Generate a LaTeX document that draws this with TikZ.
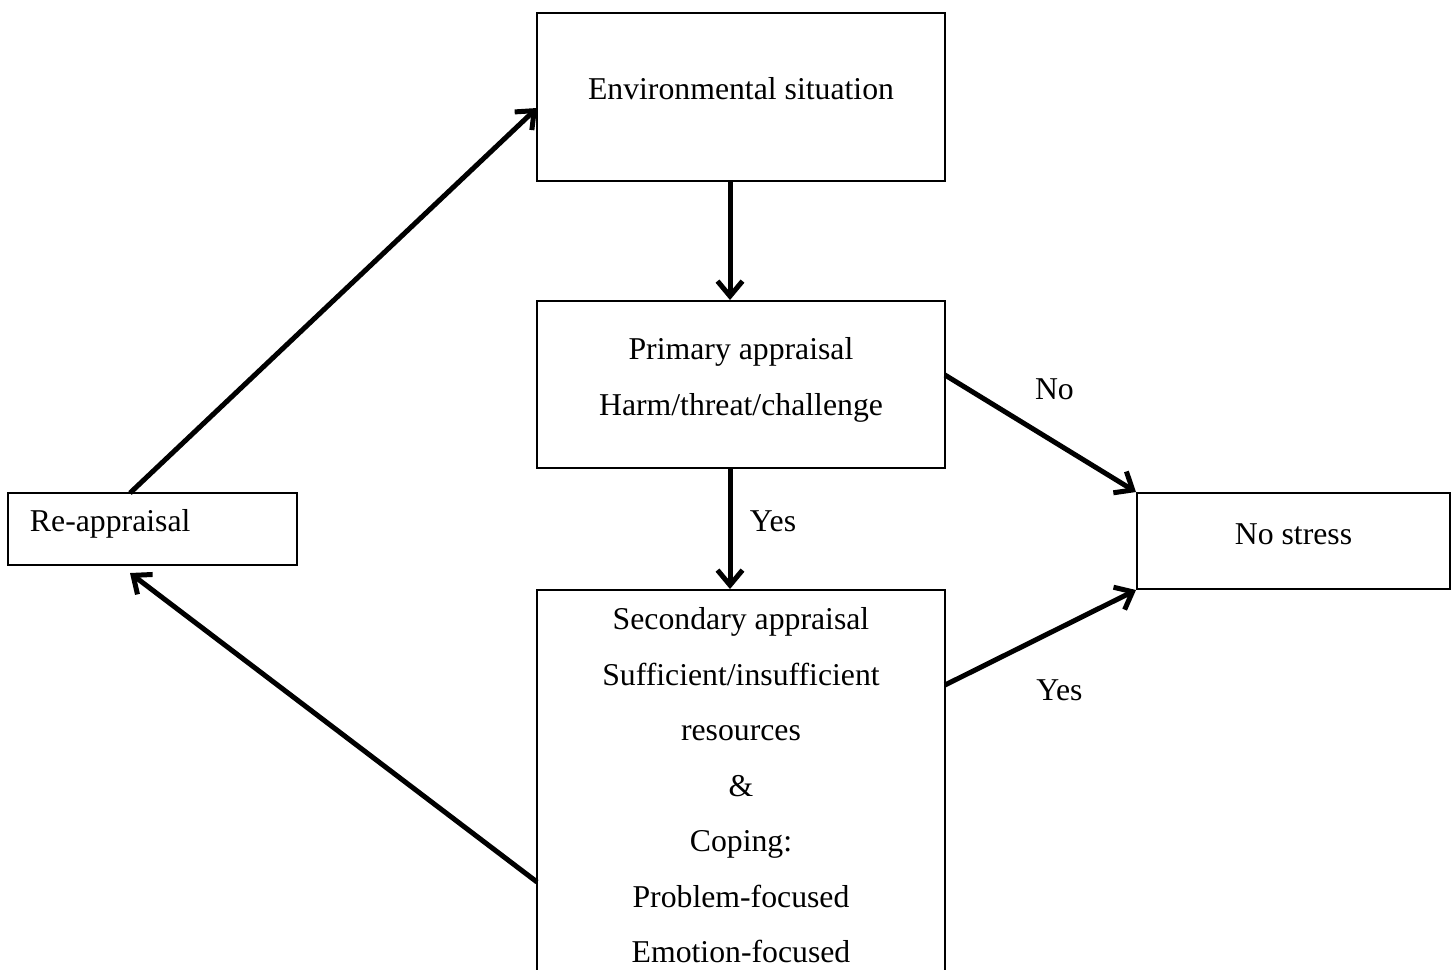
\documentclass[tikz,border=0pt]{standalone}
\usepackage{fontspec}
\setmainfont{Liberation Serif}
\usetikzlibrary{arrows.meta,positioning,calc}
\tikzset{
  stagebox/.style={draw, line width=0.8pt, align=center, inner sep=0pt,
    font=\fontsize{12.7}{22.2}\selectfont},
  flowln/.style={-{Straight Barb[length=6pt,width=10pt,line width=2pt]}, line width=2pt},
  edgelab/.style={font=\fontsize{12.7}{15}\selectfont},
}

\begin{document}
\begin{tikzpicture}[x=0.4pt, y=-0.4pt]
    \useasboundingbox (0,0) rectangle (1456,969);
    % stages
    \node[stagebox, minimum width=408*0.4pt, minimum height=168*0.4pt, text depth=7pt] (env) at (741,97) {Environmental situation};
    \node[stagebox, minimum width=408*0.4pt, minimum height=167*0.4pt, text depth=6.6pt] (prim) at (741,384.5)
      {Primary appraisal\\Harm/threat/challenge};
    \node[stagebox, minimum width=408*0.4pt, anchor=north, inner ysep=7pt] (sec) at (741,589)
      {Secondary appraisal\\Sufficient/insufficient\\resources\\\&\\Coping:\\Problem-focused\\Emotion-focused\\\strut};
    \node[stagebox, minimum width=289*0.4pt, minimum height=72*0.4pt, inner xsep=8.8pt,
      text width=245*0.4pt, align=left, text depth=7pt] (reap) at (152.5,529)
      {Re-appraisal};
    \node[stagebox, minimum width=313*0.4pt, minimum height=96*0.4pt, text depth=5.8pt] (nostress) at (1293.5,541) {No stress};
    % free ends on box sides
    \coordinate (primout) at (945,375);
    \coordinate (secout) at (945,685);
    \coordinate (secback) at (537,882);
    \coordinate (reapin) at (130,573);
    \coordinate (reapout) at (130,493);
    \coordinate (envin) at (537,108);
    % flow
    \draw[flowln] (env.south -| 730,0) -- (prim.north -| 730,0);
    \draw[flowln] (prim.south -| 730,0) -- (sec.north -| 730,0) node[edgelab, midway, xshift=17.2pt, yshift=3pt] {Yes};
    \draw[flowln] (primout) -- (nostress.north west) node[edgelab, pos=0.573, yshift=21.2pt] {No};
    \draw[flowln] (secout) -- (nostress.south west) node[edgelab, pos=0.599, yshift=-25pt] {Yes};
    \draw[flowln] (secback) -- (reapin);
    \draw[flowln] (reapout) -- (envin);
\end{tikzpicture}
\end{document}
